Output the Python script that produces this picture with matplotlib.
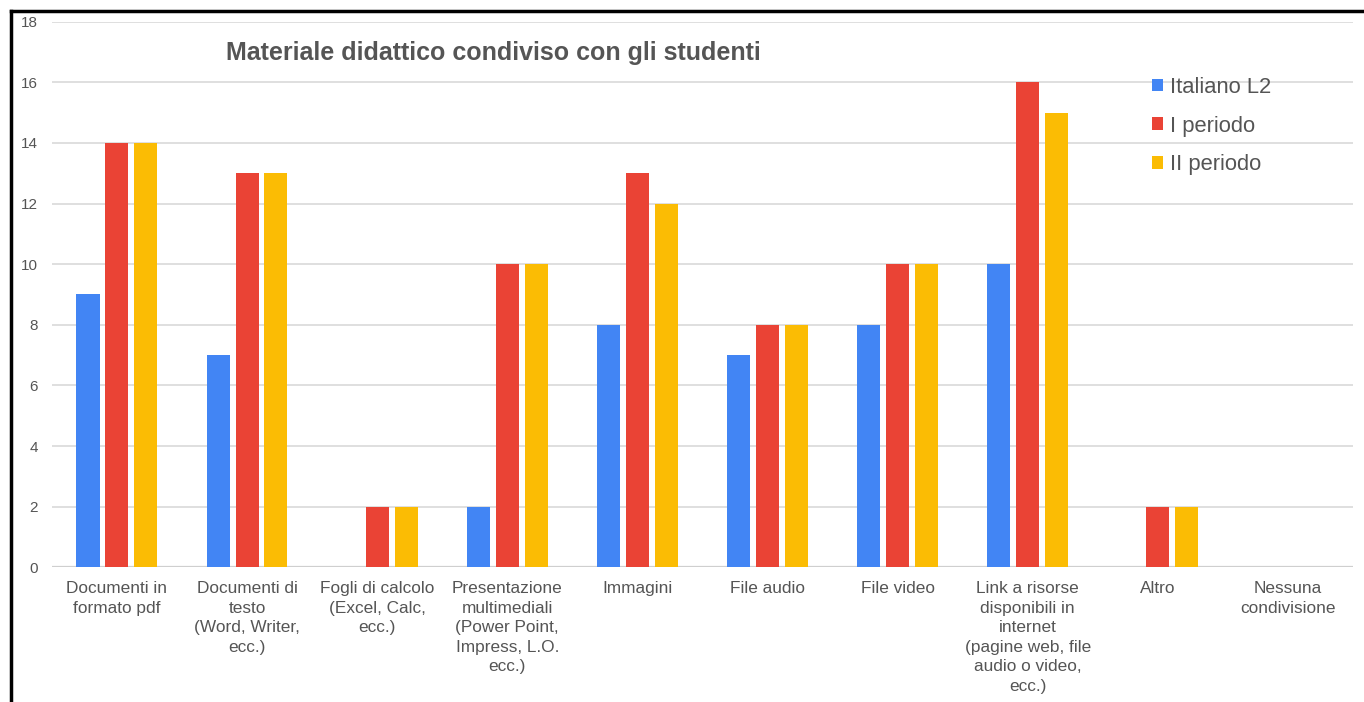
import numpy as np
import matplotlib.pyplot as plt
from matplotlib.lines import Line2D

plt.rcParams['font.family'] = ['Liberation Sans', 'DejaVu Sans']

categories = [
    "Documenti in\nformato pdf",
    "Documenti di\ntesto\n(Word, Writer,\necc.)",
    "Fogli di calcolo\n(Excel, Calc,\necc.)",
    "Presentazione\nmultimediali\n(Power Point,\nImpress, L.O.\necc.)",
    "Immagini",
    "File audio",
    "File video",
    "Link a risorse\ndisponibili in\ninternet\n(pagine web, file\naudio o video,\necc.)",
    "Altro",
    "Nessuna\ncondivisione",
]
italiano_l2 = [9, 7, 0, 2, 8, 7, 8, 10, 0, 0]
primo_periodo = [14, 13, 2, 10, 13, 8, 10, 16, 2, 0]
secondo_periodo = [14, 13, 2, 10, 12, 8, 10, 15, 2, 0]

series = [
    ("Italiano L2", italiano_l2, "#4285F4"),
    ("I periodo", primo_periodo, "#EA4335"),
    ("II periodo", secondo_periodo, "#FBBC04"),
]

fig = plt.figure(figsize=(13.64, 7.02), dpi=100)
ax = fig.add_axes([0.038, 0.192, 0.954, 0.777])

x = np.arange(len(categories))
bar_w = 0.177
pitch = 0.222
for i, (name, vals, col) in enumerate(series):
    ax.bar(x + (i - 1) * pitch, vals, width=bar_w, color=col, label=name, zorder=3)

ax.set_xlim(-0.5, len(categories) - 0.5)
ax.set_ylim(0, 18)
ax.set_yticks(range(0, 19, 2))
ax.yaxis.grid(True, color="#d9d9d9", linewidth=1.2, zorder=0)
ax.set_axisbelow(True)
for s in ax.spines.values():
    s.set_visible(False)
ax.axhline(0, color="#cfcfcf", linewidth=1.6, zorder=2)

ax.set_xticks(x)
ax.set_xticklabels(categories, fontsize=12.4, color="#555555", linespacing=1.38)
ax.tick_params(axis="x", length=0, pad=10)
ax.tick_params(axis="y", length=0, pad=10, labelsize=11, labelcolor="#555555")

fig.text(0.166, 0.925, "Materiale didattico condiviso con gli studenti",
         fontsize=18, fontweight="bold", color="#555555", va="center")

leg = ax.legend(loc="upper left", bbox_to_anchor=(0.83, 0.935), frameon=False,
                fontsize=15.8, handlelength=0.5, handleheight=0.5,
                handletextpad=0.35, labelspacing=0.8)
for t in leg.get_texts():
    t.set_color("#555555")

# black frame along the left and top edges
fig.add_artist(Line2D([0.0081, 0.0081], [0, 0.985], transform=fig.transFigure,
                      color="black", linewidth=2.5))
fig.add_artist(Line2D([0.0081, 1.0], [0.985, 0.985], transform=fig.transFigure,
                      color="black", linewidth=2.5))

fig.savefig("out.png", dpi=100)
